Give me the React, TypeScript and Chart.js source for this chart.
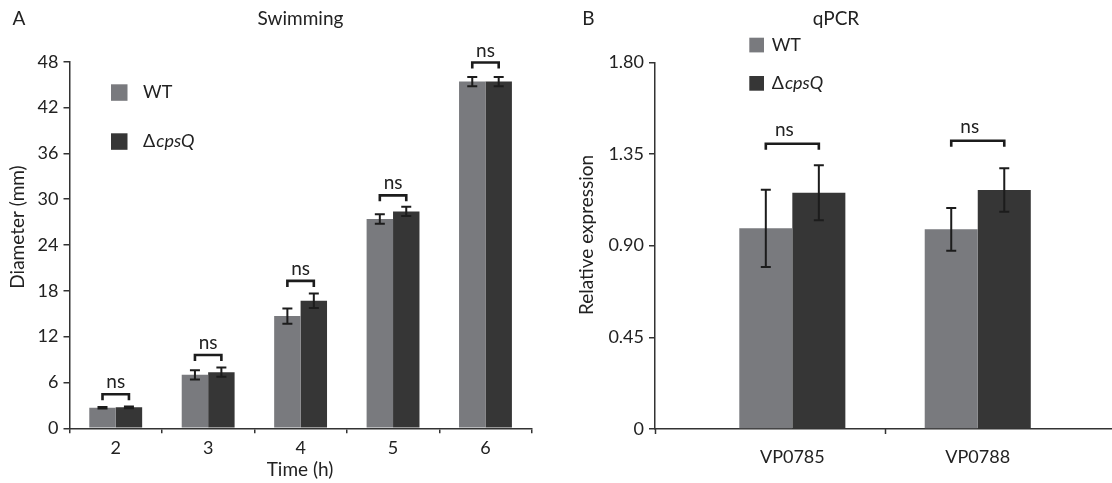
import React, { useEffect, useRef } from 'react';
import { Chart, registerables } from 'chart.js';

Chart.register(...registerables);

const FONT = 'Lato, "Open Sans", "DejaVu Sans", sans-serif';
const TEXT = '#222222';
const AXIS = '#333333';
const WT_COLOR = '#797a7e';
const CPSQ_COLOR = '#363636';
const INK = '#1c1c1c';

// ---- Panel A: Swimming ----
const timeLabels = ['2', '3', '4', '5', '6'];
const swimWT = [2.7, 7.0, 14.7, 27.4, 45.4];
const swimWTErr = [0.1, 0.6, 1.0, 0.62, 0.6];
const swimCpsQ = [2.75, 7.35, 16.7, 28.4, 45.4];
const swimCpsQErr = [0.12, 0.6, 0.95, 0.6, 0.6];
const swimSig = [4.45, 9.6, 19.3, 30.5, 47.9];
const swimSigText = ['ns', 'ns', 'ns', 'ns', 'ns'];
const swimTicks = { min: 0, max: 48, step: 6 };

// ---- Panel B: qPCR ----
const genes = ['VP0785', 'VP0788'];
const geneX = [1, 2];
const qWT = [0.985, 0.98];
const qWTErr = [0.19, 0.105];
const qCpsQ = [1.16, 1.173];
const qCpsQErr = [0.135, 0.107];
const qSig = [1.4, 1.415];
const qSigText = ['ns', 'ns'];
const qTicks = { min: 0, max: 1.8, step: 0.45 };
const qXRange = { min: 0.2594, max: 2.724 };
const qTickMarks = [0.2594, 1.5];

const W = 556;
const H = 483;

function drawLegendText(ctx: CanvasRenderingContext2D, x: number, y: number, size: number, mutant: boolean) {
  ctx.textBaseline = 'middle';
  ctx.textAlign = 'left';
  ctx.fillStyle = TEXT;
  if (!mutant) {
    ctx.font = `${size}px ${FONT}`;
    ctx.fillText('WT', x, y);
  } else {
    ctx.font = `${size}px ${FONT}`;
    ctx.fillText('Δ', x, y);
    const w = ctx.measureText('Δ').width;
    ctx.font = `italic ${size}px ${FONT}`;
    ctx.fillText('cpsQ', x + w + 1, y);
  }
}

const overlayPlugin = {
  id: 'overlay',
  afterDatasetsDraw(chart: any, _args: any, opts: any) {
    const ctx: CanvasRenderingContext2D = chart.ctx;
    const ys = chart.scales.y;
    const xs = chart.scales.x;
    ctx.save();
    // error bars
    ctx.strokeStyle = INK;
    ctx.lineWidth = 2;
    chart.data.datasets.forEach((ds: any, di: number) => {
      const meta = chart.getDatasetMeta(di);
      const errs = opts.errors[di];
      meta.data.forEach((bar: any, i: number) => {
        const d = ds.data[i];
        const v = typeof d === 'number' ? d : d.y;
        const e = errs[i];
        const yt = ys.getPixelForValue(v + e);
        const yb = ys.getPixelForValue(v - e);
        const x = bar.x;
        ctx.beginPath();
        ctx.moveTo(x, yt);
        ctx.lineTo(x, yb);
        ctx.moveTo(x - 5, yt);
        ctx.lineTo(x + 5, yt);
        ctx.moveTo(x - 5, yb);
        ctx.lineTo(x + 5, yb);
        ctx.stroke();
      });
    });
    // significance brackets
    const m0 = chart.getDatasetMeta(0);
    const m1 = chart.getDatasetMeta(1);
    ctx.lineWidth = 2.6;
    opts.sig.forEach((s: number, i: number) => {
      const x0 = m0.data[i].x;
      const x1 = m1.data[i].x;
      const y = ys.getPixelForValue(s);
      ctx.beginPath();
      ctx.moveTo(x0, y + 6);
      ctx.lineTo(x0, y);
      ctx.lineTo(x1, y);
      ctx.lineTo(x1, y + 6);
      ctx.stroke();
      ctx.fillStyle = TEXT;
      ctx.font = `19px ${FONT}`;
      ctx.textAlign = 'center';
      ctx.textBaseline = 'middle';
      ctx.fillText(opts.sigText[i], (x0 + x1) / 2 + opts.sigDx, y - opts.sigDy);
    });
    // manual x tick marks
    if (opts.xTickMarks) {
      ctx.strokeStyle = AXIS;
      ctx.lineWidth = 1.5;
      opts.xTickMarks.forEach((v: number) => {
        const px = Math.round(xs.getPixelForValue(v)) + 0.5;
        ctx.beginPath();
        ctx.moveTo(px, chart.chartArea.bottom);
        ctx.lineTo(px, chart.chartArea.bottom + 5);
        ctx.stroke();
      });
    }
    // legend
    const lg = opts.legend;
    ctx.fillStyle = WT_COLOR;
    ctx.fillRect(lg.x, lg.y0, lg.box, lg.box);
    ctx.fillStyle = CPSQ_COLOR;
    ctx.fillRect(lg.x, lg.y1, lg.box, lg.box);
    drawLegendText(ctx, lg.tx, lg.y0 + lg.box / 2, 18, false);
    drawLegendText(ctx, lg.tx, lg.y1 + lg.box / 2, 18, true);
    // titles
    ctx.fillStyle = TEXT;
    ctx.textBaseline = 'middle';
    ctx.textAlign = 'center';
    ctx.font = `19px ${FONT}`;
    ctx.fillText(opts.letter.text, opts.letter.x, opts.letter.y);
    ctx.fillText(opts.title.text, opts.title.x, opts.title.y);
    if (opts.xTitle) ctx.fillText(opts.xTitle.text, opts.xTitle.x, opts.xTitle.y);
    ctx.save();
    ctx.translate(opts.yTitle.x, opts.yTitle.y);
    ctx.rotate(-Math.PI / 2);
    ctx.fillText(opts.yTitle.text, 0, 0);
    ctx.restore();
    ctx.restore();
  },
};

function fmtQ(v: number) {
  return v === 0 ? '0' : Number(v).toFixed(2);
}

function makeY(t: { min: number; max: number; step: number }, width: number, fmt?: (v: number) => string) {
  return {
    min: t.min,
    max: t.max,
    ticks: {
      stepSize: t.step,
      color: TEXT,
      font: { family: FONT, size: 18 },
      padding: 5,
      callback: fmt ? (v: any) => fmt(Number(v)) : undefined,
    },
    grid: { drawOnChartArea: false, drawTicks: true, tickLength: 6, color: AXIS, lineWidth: 1.5 },
    border: { display: true, color: AXIS, width: 1.5 },
    afterFit(s: any) {
      s.width = width;
    },
  };
}

function SwimChart() {
  const ref = useRef<HTMLCanvasElement>(null);
  useEffect(() => {
    const chart = new Chart(ref.current as HTMLCanvasElement, {
      type: 'bar',
      data: {
        labels: timeLabels,
        datasets: [
          { label: 'WT', data: swimWT, backgroundColor: WT_COLOR, categoryPercentage: 0.572, barPercentage: 1 },
          { label: 'ΔcpsQ', data: swimCpsQ, backgroundColor: CPSQ_COLOR, categoryPercentage: 0.572, barPercentage: 1 },
        ],
      },
      options: {
        animation: false,
        responsive: false,
        devicePixelRatio: 1,
        layout: { padding: { top: 61.7, right: W - 531.7, left: 0, bottom: 0 } },
        plugins: {
          legend: { display: false },
          tooltip: { enabled: false },
          overlay: {
            errors: [swimWTErr, swimCpsQErr],
            sig: swimSig,
            sigText: swimSigText,
            sigDx: 0,
            sigDy: 12,
            legend: { x: 111, y0: 84.3, y1: 133.3, box: 16.5, tx: 143 },
            letter: { text: 'A', x: 19, y: 19 },
            title: { text: 'Swimming', x: 300.5, y: 19 },
            xTitle: { text: 'Time (h)', x: 300, y: 470 },
            yTitle: { text: 'Diameter (mm)', x: 18, y: 227 },
          },
        } as any,
        scales: {
          x: {
            type: 'category',
            offset: true,
            grid: { offset: true, drawOnChartArea: false, drawTicks: true, tickLength: 5, color: AXIS, lineWidth: 1.5 },
            border: { display: true, color: AXIS, width: 1.5 },
            ticks: { color: TEXT, font: { family: FONT, size: 18 }, padding: 4 },
            afterFit(s: any) {
              s.height = H - 428.3;
            },
          },
          y: makeY(swimTicks, 69.5) as any,
        },
      },
      plugins: [overlayPlugin],
    });
    return () => chart.destroy();
  }, []);
  return <canvas ref={ref} width={W} height={H} style={{ position: 'absolute', left: 0, top: 0 }} />;
}

function QpcrChart() {
  const ref = useRef<HTMLCanvasElement>(null);
  useEffect(() => {
    const chart = new Chart(ref.current as HTMLCanvasElement, {
      type: 'bar',
      data: {
        datasets: [
          {
            label: 'WT',
            data: geneX.map((x, i) => ({ x, y: qWT[i] })),
            backgroundColor: WT_COLOR,
            categoryPercentage: 0.572,
            barPercentage: 1,
          },
          {
            label: 'ΔcpsQ',
            data: geneX.map((x, i) => ({ x, y: qCpsQ[i] })),
            backgroundColor: CPSQ_COLOR,
            categoryPercentage: 0.572,
            barPercentage: 1,
          },
        ],
      },
      options: {
        animation: false,
        responsive: false,
        devicePixelRatio: 1,
        layout: { padding: { top: 62.3, right: 0, left: 0, bottom: 0 } },
        plugins: {
          legend: { display: false },
          tooltip: { enabled: false },
          overlay: {
            errors: [qWTErr, qCpsQErr],
            sig: qSig,
            sigText: qSigText,
            sigDx: -8,
            sigDy: 14,
            xTickMarks: qTickMarks,
            legend: { x: 193.3, y0: 37.7, y1: 76, box: 14.7, tx: 215.7 },
            letter: { text: 'B', x: 32.5, y: 19 },
            title: { text: 'qPCR', x: 280, y: 19 },
            yTitle: { text: 'Relative expression', x: 31, y: 235 },
          },
        } as any,
        scales: {
          x: {
            type: 'linear',
            offset: false,
            min: qXRange.min,
            max: qXRange.max,
            grid: { display: false },
            border: { display: true, color: AXIS, width: 1.5 },
            ticks: {
              color: TEXT,
              font: { family: FONT, size: 18 },
              padding: 9,
              callback: (v: any) => {
                const k = geneX.indexOf(Number(v));
                return k >= 0 ? genes[k] : '';
              },
            },
            afterBuildTicks(s: any) {
              s.ticks = geneX.map((v) => ({ value: v }));
            },
            afterFit(s: any) {
              s.height = H - 429;
            },
          },
          y: makeY(qTicks, 655 - W, fmtQ) as any,
        },
      },
      plugins: [overlayPlugin],
    });
    return () => chart.destroy();
  }, []);
  return <canvas ref={ref} width={W} height={H} style={{ position: 'absolute', left: W, top: 0 }} />;
}

export default function App() {
  return (
    <div style={{ position: 'absolute', left: 0, top: 0, width: 1112, height: 483, background: '#ffffff', overflow: 'hidden' }}>
      <SwimChart />
      <QpcrChart />
    </div>
  );
}
